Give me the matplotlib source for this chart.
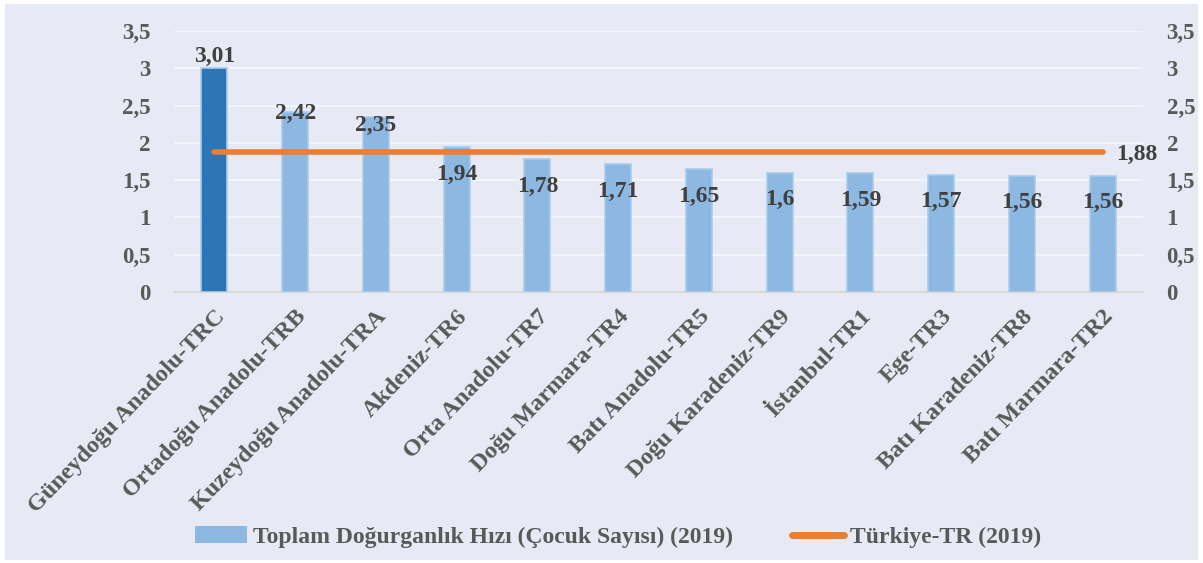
import numpy as np
import matplotlib
matplotlib.use("Agg")
import matplotlib.pyplot as plt
from matplotlib.patches import Rectangle, Patch
from matplotlib.lines import Line2D

bolgeler = ["Güneydoğu Anadolu-TRC", "Ortadoğu Anadolu-TRB", "Kuzeydoğu Anadolu-TRA",
            "Akdeniz-TR6", "Orta Anadolu-TR7", "Doğu Marmara-TR4", "Batı Anadolu-TR5",
            "Doğu Karadeniz-TR9", "İstanbul-TR1", "Ege-TR3", "Batı Karadeniz-TR8",
            "Batı Marmara-TR2"]
dogurganlik = [3.01, 2.42, 2.35, 1.94, 1.78, 1.71, 1.65, 1.6, 1.59, 1.57, 1.56, 1.56]
turkiye = 1.88
y_ticks = [0, 0.5, 1, 1.5, 2, 2.5, 3, 3.5]

# etiketlerin dikey kaydirmasi (piksel), grafikte elle tasinmis gibi
etiket_kaydirma = [11, -2, -9, -27, -27, -27, -27, -27, -27, -27, -27, -27]

plt.rcParams['font.family'] = ['Liberation Serif', 'DejaVu Serif']
plt.rcParams['font.weight'] = 'bold'

arka = "#E7EAF4"
koyu_mavi = "#2E75B6"
acik_mavi = "#8DB8E2"
turuncu = "#ED7D31"

fig = plt.figure(figsize=(12.03, 5.63), dpi=100)
fig.patch.set_facecolor("white")
fig.patches.append(Rectangle((5 / 1203, 3 / 563), 1193 / 1203, 556 / 563,
                             transform=fig.transFigure, facecolor=arka,
                             edgecolor="none", zorder=-10))

ax = fig.add_axes([174 / 1203, 1 - 292 / 563, (1143 - 174) / 1203, (292 - 31) / 563])
ax.set_facecolor("none")
x = np.arange(len(bolgeler))
renkler = [koyu_mavi] + [acik_mavi] * (len(bolgeler) - 1)
ax.bar(x, dogurganlik, width=0.32, color=renkler, edgecolor="#A9CBEB",
       linewidth=1.2, zorder=3)
ax.plot(x, np.full(len(x), turkiye), color=turuncu, linewidth=4,
        solid_capstyle="round", zorder=4)

for xi, v, dy in zip(x, dogurganlik, etiket_kaydirma):
    ax.annotate(f"{v:g}".replace(".", ","), (xi, v), xytext=(0, dy * 0.72),
                textcoords="offset points", ha="center", va="center",
                fontsize=17, fontweight="bold", color="#404040", zorder=5)
ax.annotate(f"{turkiye:g}".replace(".", ","), (x[-1], turkiye), xytext=(14 * 0.72, -3 * 0.72),
            textcoords="offset points", ha="left", va="center",
            fontsize=17, fontweight="bold", color="#404040", zorder=5)

ax.set_xlim(-0.5, len(x) - 0.5)
ax.set_ylim(0, 3.5)
ax.set_yticks(y_ticks)
ax.set_yticklabels([f"{t:g}".replace(".", ",") for t in y_ticks])
ax.grid(axis="y", color="#F1F5FC", linewidth=1.5, zorder=0)
ax.set_xticks(x)
ax.set_xticklabels(bolgeler, rotation=46, ha="right", rotation_mode="anchor")
ax.tick_params(axis="x", length=0, pad=10, labelsize=17.5, labelcolor="#595959")
ax.tick_params(axis="y", length=0, pad=17, labelsize=16.5, labelcolor="#595959")
for s in ["top", "right", "left"]:
    ax.spines[s].set_visible(False)
ax.spines["bottom"].set_color("#D9D9D9")
ax.spines["bottom"].set_linewidth(1.5)

ax2 = ax.twinx()
ax2.set_ylim(0, 3.5)
ax2.set_yticks(y_ticks)
ax2.set_yticklabels([f"{t:g}".replace(".", ",") for t in y_ticks])
ax2.tick_params(axis="y", length=0, pad=17, labelsize=16.5, labelcolor="#595959")
for s in ax2.spines.values():
    s.set_visible(False)

h = [Patch(facecolor=acik_mavi, edgecolor="none"),
     Line2D([], [], color=turuncu, linewidth=5, solid_capstyle="round")]
l = ["Toplam Doğurganlık Hızı (Çocuk Sayısı) (2019)", "Türkiye-TR (2019)"]
leg = fig.legend(h, l, loc="center", bbox_to_anchor=(618 / 1203, 1 - 537 / 563), ncol=2,
                 frameon=False, fontsize=17, handlelength=2.2, handleheight=0.7,
                 handletextpad=0.25, columnspacing=2.5, labelcolor="#595959")

plt.savefig("out.png", dpi=100, facecolor=fig.get_facecolor())
